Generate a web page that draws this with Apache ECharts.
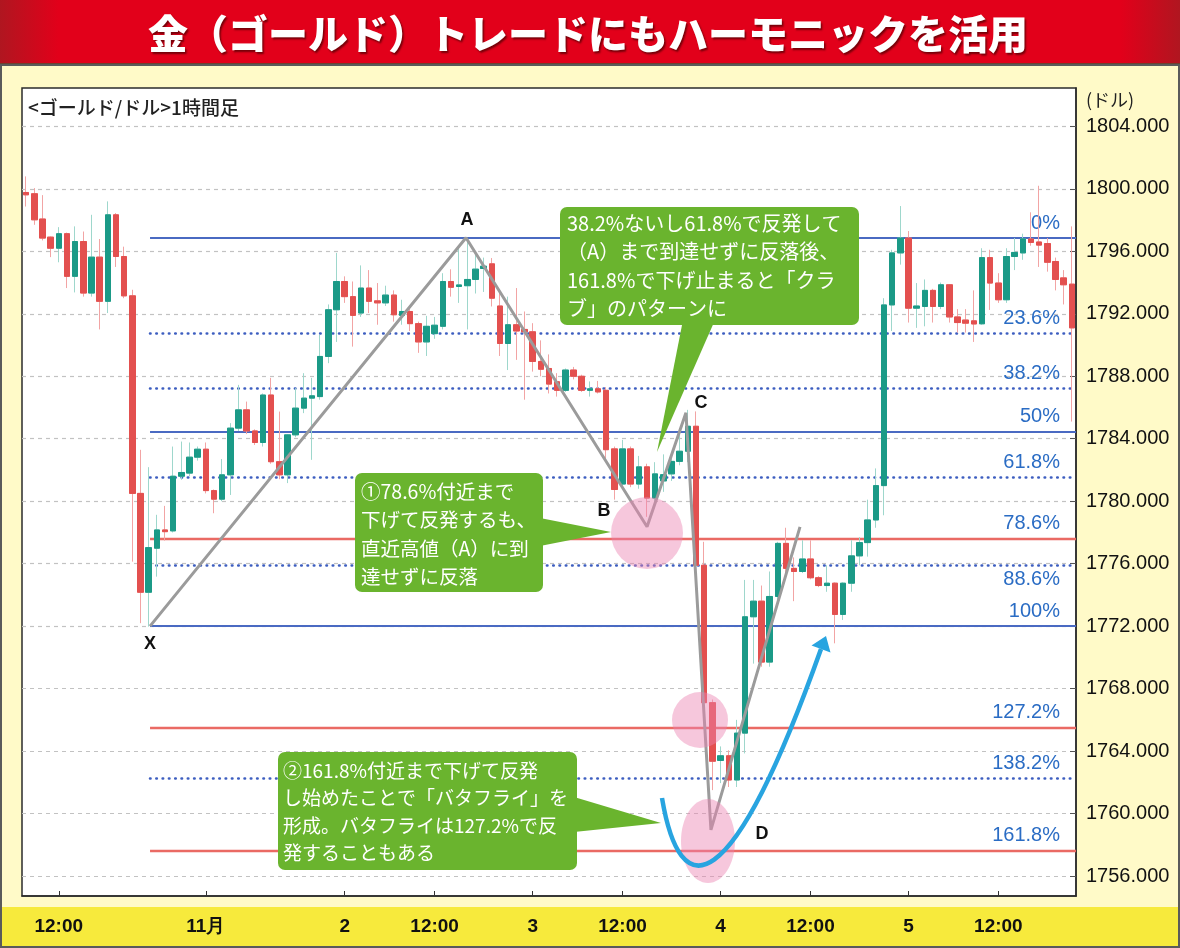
<!DOCTYPE html>
<html><head><meta charset="utf-8">
<script src="https://cdn.jsdelivr.net/npm/echarts@6/dist/echarts.min.js"></script>
<style>html,body{margin:0;padding:0;background:#fffac8}#c{width:1180px;height:948px}</style>
</head><body><div id="c"></div>
<script>
// ---------- DATA ([open, close, low, high] per hourly bar) ----------
const s1029 = [ // 10/29 08:00 -> 10/30 05:00
 [1799.77,1799.62,1798.87,1800.8],[1799.69,1798.02,1797.7,1800.05],[1798.07,1796.85,1796.7,1799.6],[1796.91,1796.2,1795.63,1796.95],
 [1796.2,1797.13,1795.3,1797.55],[1797.13,1794.4,1793.65,1797.2],[1794.4,1796.63,1793.37,1797.6],[1796.63,1793.33,1793.1,1797.27],
 [1793.33,1795.63,1793.1,1798.34],[1795.63,1792.8,1791.0,1796.79],[1792.8,1798.34,1792.05,1799.2],[1798.34,1795.67,1795.0,1798.45],
 [1795.67,1793.15,1793.0,1796.3],[1793.15,1780.5,1776.13,1793.54],[1780.5,1774.17,1772.19,1783.29],[1774.17,1777.03,1771.97,1782.18],
 [1776.99,1778.16,1775.17,1779.13],[1778.16,1778.05,1777.48,1779.7],[1778.1,1781.6,1778.0,1783.5],[1781.6,1781.84,1781.37,1783.82],
 [1781.8,1782.82,1781.6,1783.76],[1782.82,1783.33,1782.6,1783.5]
];
const s1101 = [ // 11/01 07:00 -> 11/02 05:00
 [1783.33,1780.68,1780.5,1783.76],[1780.68,1780.13,1779.23,1780.75],[1780.13,1781.69,1780.0,1782.7],[1781.69,1784.68,1780.4,1785.0],
 [1784.68,1785.85,1784.5,1787.45],[1785.85,1784.5,1784.3,1786.38],[1784.5,1783.76,1783.6,1784.6],[1783.76,1786.8,1783.5,1786.9],
 [1786.8,1782.53,1782.4,1787.9],[1782.53,1781.69,1781.41,1785.74],[1781.69,1784.25,1781.16,1784.3],[1784.25,1785.96,1784.1,1787.24],
 [1785.96,1786.6,1785.64,1788.2],[1786.6,1786.75,1782.65,1787.9],[1786.7,1789.27,1786.5,1790.65],[1789.27,1792.26,1788.84,1792.6],
 [1792.26,1794.07,1790.2,1795.9],[1794.07,1793.1,1792.7,1794.4],[1793.1,1791.9,1789.9,1794.07],[1792.05,1793.65,1791.8,1795.1],
 [1793.65,1792.8,1792.05,1794.8],[1792.83,1792.7,1791.3,1793.97],[1792.7,1793.2,1792.5,1793.8]
];
const s1102 = [ // 11/02 07:00 -> 11/03 05:00
 [1793.2,1791.94,1791.5,1793.5],[1791.9,1792.15,1791.3,1792.9],[1792.15,1791.37,1790.9,1792.4],[1791.37,1790.2,1789.5,1791.5],
 [1790.2,1791.2,1789.3,1791.87],[1790.73,1791.27,1790.4,1791.8],[1791.2,1794.07,1791.0,1794.6],[1794.07,1793.7,1793.1,1794.85],
 [1793.75,1793.85,1792.7,1796.4],[1793.8,1794.2,1791.0,1796.85],[1794.2,1794.86,1793.3,1795.9],[1794.9,1795.05,1793.4,1795.6],
 [1795.2,1793.0,1792.47,1795.57],[1792.5,1790.1,1789.3,1793.4],[1790.1,1791.3,1788.4,1793.1],[1791.3,1790.9,1789.05,1793.65],
 [1791.0,1790.85,1786.5,1792.15],[1790.85,1788.95,1788.3,1791.4],[1788.95,1788.45,1788.0,1790.3],[1788.5,1787.5,1786.9,1789.4],
 [1787.65,1787.1,1786.7,1788.2],[1787.1,1788.4,1787.0,1788.5],[1788.4,1788.0,1787.8,1788.6]
];
const s1103 = [ // 11/03 07:00 -> 11/04 05:00
 [1788.0,1787.1,1787.0,1788.1],[1787.1,1787.2,1786.7,1787.67],[1787.2,1787.0,1786.9,1787.7],[1787.1,1783.3,1782.65,1787.3],
 [1783.35,1780.75,1780.1,1783.5],[1781.1,1783.35,1780.8,1783.93],[1783.35,1781.1,1780.9,1783.5],[1781.1,1782.2,1780.8,1782.9],
 [1782.2,1780.2,1779.0,1782.4],[1780.2,1781.75,1779.9,1782.5],[1781.3,1781.7,1780.6,1783.0],[1781.75,1782.55,1781.3,1783.1],
 [1782.55,1783.2,1782.3,1784.3],[1783.2,1784.8,1782.5,1785.85],[1784.8,1775.9,1775.7,1785.75],[1775.9,1767.1,1766.9,1777.4],
 [1767.1,1763.35,1761.5,1767.3],[1763.4,1763.7,1761.95,1764.3],[1763.7,1762.15,1761.7,1764.05],[1762.15,1765.15,1761.7,1766.0],
 [1765.15,1772.6,1763.85,1774.96],[1772.6,1773.6,1769.6,1774.96],[1773.6,1769.7,1769.4,1774.6]
];
const s1104 = [ // 11/04 07:00 -> 11/05 05:00
 [1769.7,1773.9,1769.4,1775.5],[1773.9,1777.3,1773.6,1777.4],[1777.3,1775.7,1775.4,1778.3],[1775.7,1775.5,1773.6,1776.4],
 [1775.5,1776.3,1775.4,1777.5],[1776.3,1775.1,1775.0,1777.5],[1775.1,1774.6,1774.5,1775.2],[1774.6,1774.75,1774.2,1775.9],
 [1774.75,1772.75,1770.9,1774.8],[1772.75,1774.75,1772.4,1774.8],[1774.75,1776.5,1774.2,1777.5],[1776.5,1777.35,1775.9,1777.7],
 [1777.35,1778.8,1776.45,1780.1],[1778.8,1781.0,1778.3,1782.1],[1781.0,1792.57,1779.1,1793.0],[1792.57,1795.9,1790.9,1796.1],
 [1795.9,1796.85,1795.15,1798.9],[1796.85,1792.36,1791.44,1797.3],[1792.36,1792.5,1791.1,1793.97],[1792.47,1793.5,1791.2,1794.2],
 [1793.5,1792.47,1791.44,1793.6],[1792.47,1793.86,1792.3,1794.0],[1793.86,1791.8,1791.44,1793.9]
];
const s1105 = [ // 11/05 07:00 -> 21:00
 [1791.8,1791.44,1790.8,1792.3],[1791.6,1791.4,1790.8,1792.3],[1791.55,1791.35,1790.2,1793.5],[1791.36,1795.6,1791.3,1796.2],
 [1795.6,1793.97,1792.25,1796.1],[1793.97,1792.9,1792.7,1794.6],[1792.9,1795.67,1792.7,1796.2],[1795.67,1795.93,1794.8,1796.85],
 [1795.9,1796.8,1795.46,1797.13],[1796.79,1796.57,1796.36,1798.5],[1796.6,1796.4,1795.0,1800.2],[1796.5,1795.3,1794.7,1796.85],
 [1795.35,1794.2,1793.5,1795.6],[1794.3,1793.86,1792.6,1794.8],[1793.9,1791.1,1785.1,1797.6]
];
const sessionStarts = ['2021-10-29T08:00','2021-11-01T07:00','2021-11-02T07:00','2021-11-03T07:00','2021-11-04T07:00','2021-11-05T07:00'];
const sessionBars = [s1029, s1101, s1102, s1103, s1104, s1105];

const xTickLabels = {'10/29 12:00':'12:00','11/01 07:00':'11月','11/02 00:00':'2','11/02 12:00':'12:00','11/03 00:00':'3',
  '11/03 12:00':'12:00','11/04 00:00':'4','11/04 12:00':'12:00','11/05 00:00':'5','11/05 12:00':'12:00'};
const yTicks = [1756,1760,1764,1768,1772,1776,1780,1784,1788,1792,1796,1800,1804];

const fibNames  = ['0%','23.6%','38.2%','50%','61.8%','78.6%','88.6%','100%','127.2%','138.2%','161.8%'];
const fibValues = [1796.85,1790.74,1787.22,1784.46,1781.51,1777.59,1775.92,1772.0,1765.52,1762.26,1757.62];

const patternNames = ['X','A','B','C','D',''];
const patternX = [15.17,53.84,76.0,80.76,83.82,94.72];   // bar index (fractional)
const patternY = [1772.0,1796.87,1778.36,1785.66,1758.95,1778.36];

// ---------- build ----------
const pad = n => String(n).padStart(2,'0');
const categories = [], ohlc = [];
sessionBars.forEach((bars, s) => {
  const d = new Date(sessionStarts[s]);
  bars.forEach(b => {
    categories.push(pad(d.getMonth()+1)+'/'+pad(d.getDate())+' '+pad(d.getHours())+':00');
    ohlc.push(b);
    d.setHours(d.getHours()+1);
  });
});
const xMax = categories.length - 0.5;
const wickData = ohlc.map(b => [b[0], b[1], b[2], b[3]]);
const bodyData = ohlc.map(b => [b[0], b[1], Math.min(b[0],b[1]), Math.max(b[0],b[1])]);

const BLUE = '#4a6ac2', RED = '#ea6a64', DOT = '#3d5ec0';
const fibStyle = {
  '0%':{color:BLUE,type:'solid',width:2}, '50%':{color:BLUE,type:'solid',width:2}, '100%':{color:BLUE,type:'solid',width:2},
  '78.6%':{color:RED,type:'solid',width:2.4}, '127.2%':{color:RED,type:'solid',width:2.4}, '161.8%':{color:RED,type:'solid',width:2.4}
};
const dotStyle = {color:DOT, type:[0.5,5.8], width:2.6, cap:'round'};
const fibData = fibNames.map((n, k) => {
  const below = n === '88.6%';
  return [{
    name: n, coord: [patternX[0], fibValues[k]],
    lineStyle: fibStyle[n] || dotStyle,
    label: {show:true, formatter:'{b}', position: below ? 'insideEndBottom' : 'insideEndTop', distance:[16,5],
      color:'#2a6cc4', fontSize:20, fontFamily:'Liberation Sans, Arial, sans-serif'}
  }, {coord: [xMax, fibValues[k]]}];
});

const labelOffset = {X:[0,18], A:[1,-18], B:[-43,-16], C:[15,-10], D:[51,4]};
const patternData = patternX.map((x, k) => ({
  value: [x, patternY[k]],
  label: {show: !!patternNames[k], formatter: patternNames[k], position:'inside', offset: labelOffset[patternNames[k]] || [0,0],
    color:'#111', fontSize:18, fontWeight:'bold', fontFamily:'Liberation Sans, Arial, sans-serif'}
}));

const CJK = '"Noto Sans CJK JP", "Noto Sans CJK SC", sans-serif';
const GREEN = '#6ab42e';
function callout(box, pointer, text, tx, ty, fs, lh){
  return [
    {type:'polygon', z:100, shape:{points:pointer}, style:{fill:GREEN}},
    {type:'rect', z:101, shape:{x:box[0],y:box[1],width:box[2],height:box[3],r:7}, style:{fill:GREEN}},
    {type:'text', z:102, x:tx, y:ty, style:{text:text, fill:'#fff', font: fs+'px '+CJK, lineHeight:lh, verticalAlign:'top', align:'left'}}
  ];
}

const graphics = [
  {type:'rect', z:-5, shape:{x:0,y:0,width:1180,height:63}, style:{fill:new echarts.graphic.LinearGradient(0,0,1,0,[
      {offset:0,color:'#b01620'},{offset:0.05,color:'#e2001a'},{offset:0.95,color:'#e2001a'},{offset:1,color:'#b01620'}])}},
  {type:'rect', z:-5, shape:{x:0,y:63,width:1180,height:3}, style:{fill:'#6e4030'}},
  {type:'rect', z:-5, shape:{x:0,y:907,width:1180,height:39}, style:{fill:'#f7ea3c'}},
  {type:'rect', z:-4, shape:{x:1,y:65,width:1178,height:882}, style:{fill:'none', stroke:'#5a5a5a', lineWidth:2}},
  {type:'text', z:10, x:588, y:34, style:{text:'金（ゴールド）トレードにもハーモニックを活用', fill:'#fff',
      font:'900 40px '+CJK, align:'center', verticalAlign:'middle',
      textShadowColor:'rgba(70,0,0,0.7)', textShadowBlur:2, textShadowOffsetX:1.5, textShadowOffsetY:1.5}},
  {type:'text', z:10, x:28, y:108, style:{text:'<ゴールド/ドル>1時間足', fill:'#222', font:'500 19px '+CJK, align:'left', verticalAlign:'middle'}},
  {type:'text', z:10, x:1086, y:100, style:{text:'(ドル)', fill:'#222', font:'18px '+CJK, align:'left', verticalAlign:'middle'}},
  // highlight circles
  {type:'circle', z:50, shape:{cx:647,cy:533,r:36}, style:{fill:'rgba(234,130,178,0.45)'}},
  {type:'circle', z:50, shape:{cx:700,cy:720,r:28}, style:{fill:'rgba(234,130,178,0.45)'}},
  {type:'ellipse', z:50, shape:{cx:708,cy:841,rx:27,ry:42}, style:{fill:'rgba(234,130,178,0.45)'}},
  // blue arc with arrow
  {type:'bezierCurve', z:60, shape:{x1:662,y1:798,cpx1:680,cpy1:905,cpx2:730,cpy2:905,x2:821,y2:649},
      style:{fill:'none', stroke:'#28a4e0', lineWidth:4.5}},
  {type:'polygon', z:60, shape:{points:[[811.5,645.5],[826,636],[830.5,652.5]]}, style:{fill:'#28a4e0'}},
  ...callout([560,207,299,118], [[683,320],[715,320],[657,452]],
     '38.2%ないし61.8%で反発して\n（A）まで到達せずに反落後、\n161.8%で下げ止まると「クラ\nブ」のパターンに', 567, 209, 20, 28.5),
  ...callout([355,473,188,119], [[540,518],[540,546],[611,532]],
     '①78.6%付近まで\n下げて反発するも、\n直近高値（A）に到\n達せずに反落', 361, 477, 19.5, 28.5),
  ...callout([278,752,299,118], [[574,797],[574,832],[661,823]],
     '②161.8%付近まで下げて反発\nし始めたことで「バタフライ」を\n形成。バタフライは127.2%で反\n発することもある', 283, 757, 19, 27.5)
];

const chart = echarts.init(document.getElementById('c'), null, {renderer:'canvas'});
chart.setOption({
  backgroundColor:'#fffac8',
  animation:false,
  grid:{left:22, right:104, top:88, bottom:52, show:true, backgroundColor:'#ffffff', borderColor:'#2b2b2b', borderWidth:1.5},
  xAxis:[{
    type:'category', data:categories, boundaryGap:true,
    axisLine:{show:true, onZero:false, lineStyle:{color:'#2b2b2b', width:1.5}},
    axisTick:{show:true, inside:true, length:5, alignWithLabel:true, interval:(i, v) => v in xTickLabels, lineStyle:{color:'#333'}},
    axisLabel:{interval:(i, v) => v in xTickLabels, formatter: v => xTickLabels[v] || '', margin:21,
      color:'#111', fontSize:19, fontWeight:'bold', fontFamily:'"Liberation Sans", Arial, sans-serif'},
    splitLine:{show:false}
  },{
    type:'value', min:-0.5, max:xMax, show:false, axisLine:{onZero:false}
  }],
  yAxis:{
    type:'value', position:'right', min:1754.72, max:1806.46,
    axisLine:{show:true, onZero:false, lineStyle:{color:'#2b2b2b', width:1.5}},
    axisTick:{show:true, inside:true, length:6, customValues:yTicks, lineStyle:{color:'#555'}},
    axisLabel:{customValues:yTicks, formatter: v => Number(v).toFixed(3), margin:10, color:'#111', fontSize:20,
      fontFamily:'"Liberation Sans", Arial, sans-serif'},
    splitLine:{show:true, lineStyle:{color:'#c2c2c2', type:[4,4], width:1.2}}
  },
  series:[
    {type:'line', xAxisIndex:1, yAxisIndex:0, data:[], silent:true, z:1,
      markLine:{silent:true, symbol:'none', z:1, animation:false, data:fibData}},
    {type:'candlestick', data:wickData, barWidth:6, z:2, silent:true,
      itemStyle:{color:'rgba(0,0,0,0)', color0:'rgba(0,0,0,0)', borderColor:'#9ed7cc', borderColor0:'#f2a4a4', borderWidth:1}},
    {type:'candlestick', data:bodyData, barWidth:6, z:3, silent:true,
      itemStyle:{color:'#1b9a87', color0:'#e3504f', borderColor:'#1b9a87', borderColor0:'#e3504f', borderWidth:1}},
    {type:'line', xAxisIndex:1, yAxisIndex:0, data:patternData, z:4, silent:true,
      symbol:'circle', symbolSize:1, itemStyle:{color:'rgba(0,0,0,0)'},
      lineStyle:{color:'#9b9b9b', width:3}}
  ],
  graphic: graphics
});
</script>
</body></html>
